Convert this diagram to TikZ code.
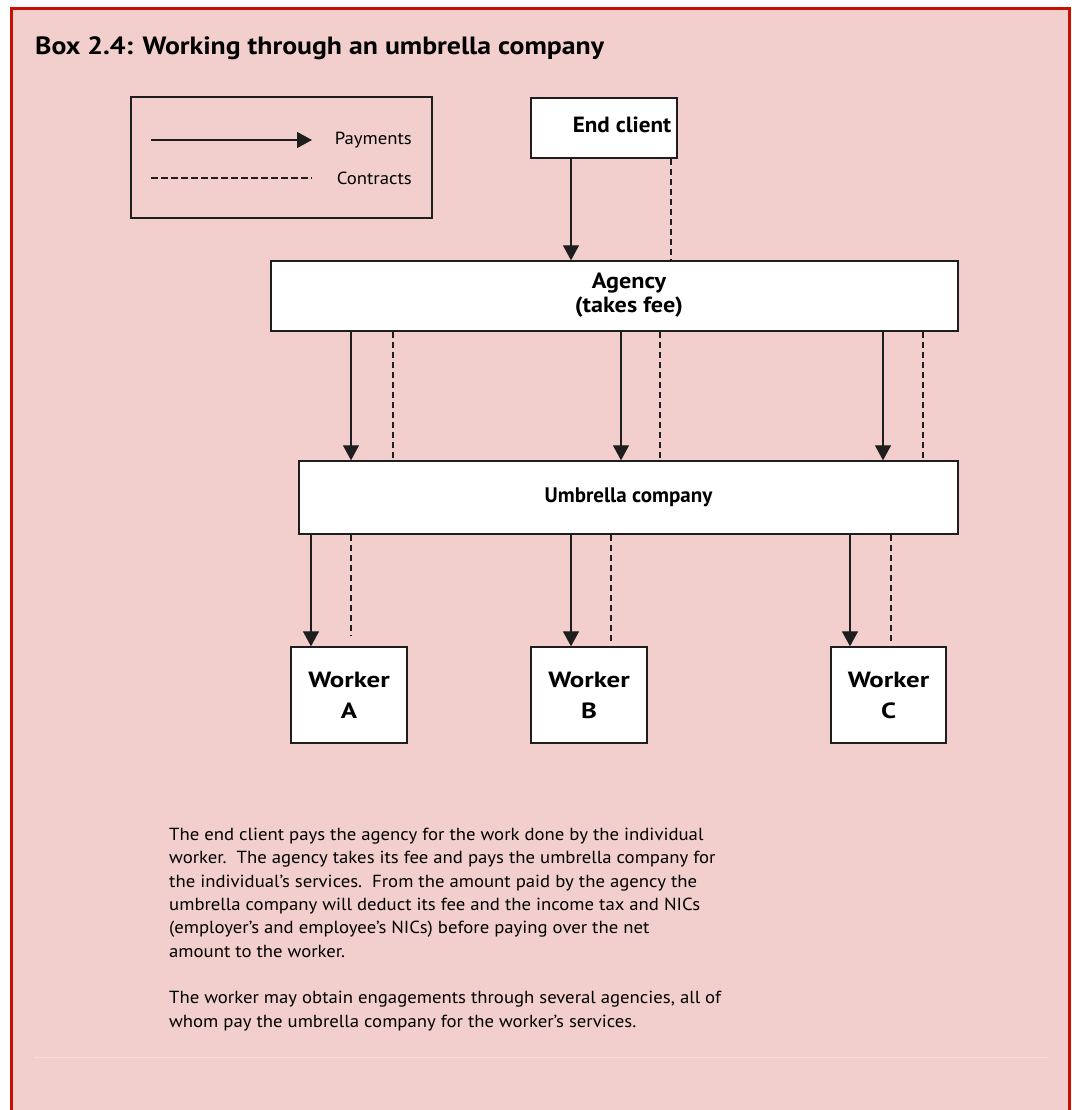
\documentclass[tikz,border=0pt]{standalone}
\usepackage{fontspec}
\setmainfont{PT Sans}
\newfontfamily\titlefam[FakeStretch=1.11]{PT Sans}
\newfontfamily\nodefam[FakeStretch=1.1]{PT Sans}
\newfontfamily\clientfam[FakeStretch=1.05]{PT Sans}
\newfontfamily\workerfam[FakeStretch=1.22]{PT Sans}
\newfontfamily\textfam[FakeStretch=1.07]{PT Sans}
\usetikzlibrary{arrows.meta,calc}
\definecolor{boxpink}{RGB}{242,207,204}
\definecolor{framered}{RGB}{200,16,0}
\definecolor{faintline}{RGB}{246,221,218}
\definecolor{ink}{RGB}{30,30,30}
\begin{document}
\begin{tikzpicture}[x=1pt,y=-1pt,
  box/.style={draw=ink,line width=1.4pt,fill=white,inner sep=0pt,font=\nodefam\fontsize{22}{24}\selectfont\bfseries,align=center},
  workerbox/.style={box,minimum height=96pt,font=\workerfam\fontsize{22}{31}\selectfont\bfseries},
  pay/.style={draw=ink,line width=1.3pt,-{Triangle[width=16pt,length=15pt]}},
  contract/.style={draw=ink,line width=1.3pt,dash pattern=on 6.5pt off 3.5pt},
  legtext/.style={anchor=east,inner sep=0pt,font=\textfam\fontsize{17.5}{20}\selectfont},
]
\useasboundingbox (0,0) rectangle (1071,1110);
\fill[white] (0,0) rectangle (1071,1110);
\fill[boxpink] (11.5,8.5) rectangle (1069.5,1112);
\draw[framered,line width=3pt] (11.5,1112) -- (11.5,8.5) -- (1069.5,8.5) -- (1069.5,1112);
\draw[faintline,line width=1pt] (34,1057) -- (1048,1057);

\node[anchor=base west,inner sep=0pt,font=\titlefam\fontsize{25}{30}\selectfont\bfseries] (title) at (35,55) {Box 2.4: Working through an umbrella company};

% legend
\node[draw=ink,line width=1.4pt,minimum width=301pt,minimum height=121pt,inner sep=0pt] (legend) at (281.5,157.5) {};
\coordinate (lpa) at (151,140);
\coordinate (lpb) at (312,140);
\coordinate (lca) at (151,178);
\coordinate (lcb) at (312,178);
\draw[pay] (lpa) -- (lpb);
\draw[contract] (lca) -- (lcb);
\node[legtext] (paylbl) at (412,140) {Payments};
\node[legtext] (conlbl) at (412,178) {Contracts};

% boxes
\node[box,minimum width=146pt,minimum height=60pt,font=\clientfam\fontsize{22}{24}\selectfont\bfseries] (client) at (604,128) {\hspace*{36pt}\raisebox{6pt}{End client}};
\node[box,minimum width=687pt,minimum height=70pt] (agency) at (614.5,296) {\hspace*{29pt}\begin{tabular}{@{}c@{}}Agency\\(takes fee)\end{tabular}};
\node[box,minimum width=659pt,minimum height=73pt,font=\fontsize{21}{24}\selectfont\bfseries] (umbrella) at (628.5,497.5) {Umbrella company};
\node[workerbox,minimum width=116pt] (wa) at (349,695) {Worker\\A};
\node[workerbox,minimum width=116pt] (wb) at (589,695) {Worker\\B};
\node[workerbox,minimum width=115pt] (wc) at (888.5,695) {Worker\\C};

% client -> agency
\draw[pay] (571,0 |- client.south) -- (571,0 |- agency.north);
\draw[contract] (671,0 |- client.south) -- (671,0 |- agency.north);
% agency -> umbrella
\foreach \p/\c in {351/393,621/660,883/923}{
  \draw[pay] (\p,0 |- agency.south) -- (\p,0 |- umbrella.north);
  \draw[contract] (\c,0 |- agency.south) -- (\c,0 |- umbrella.north);
}
% umbrella -> workers
\draw[pay] (311,0 |- umbrella.south) -- (311,0 |- wa.north);
\draw[contract,shorten >=10pt] (351,0 |- umbrella.south) -- (351,0 |- wa.north);
\draw[pay] (571,0 |- umbrella.south) -- (571,0 |- wb.north);
\draw[contract,shorten >=4pt] (611,0 |- umbrella.south) -- (611,0 |- wb.north);
\draw[pay] (850,0 |- umbrella.south) -- (850,0 |- wc.north);
\draw[contract,shorten >=3pt] (891,0 |- umbrella.south) -- (891,0 |- wc.north);

% explanatory text
\node[anchor=north west,inner sep=0pt,align=left,font=\textfam\fontsize{17.5}{23.3}\selectfont] (para) at (169,828) {%
The end client pays the agency for the work done by the individual\\
worker.\ \ The agency takes its fee and pays the umbrella company for\\
the individual’s services.\ \ From the amount paid by the agency the\\
umbrella company will deduct its fee and the income tax and NICs\\
(employer’s and employee’s NICs) before paying over the net\\
amount to the worker.\\[23.3pt]
The worker may obtain engagements through several agencies, all of\\
whom pay the umbrella company for the worker’s services.};
\end{tikzpicture}
\end{document}
